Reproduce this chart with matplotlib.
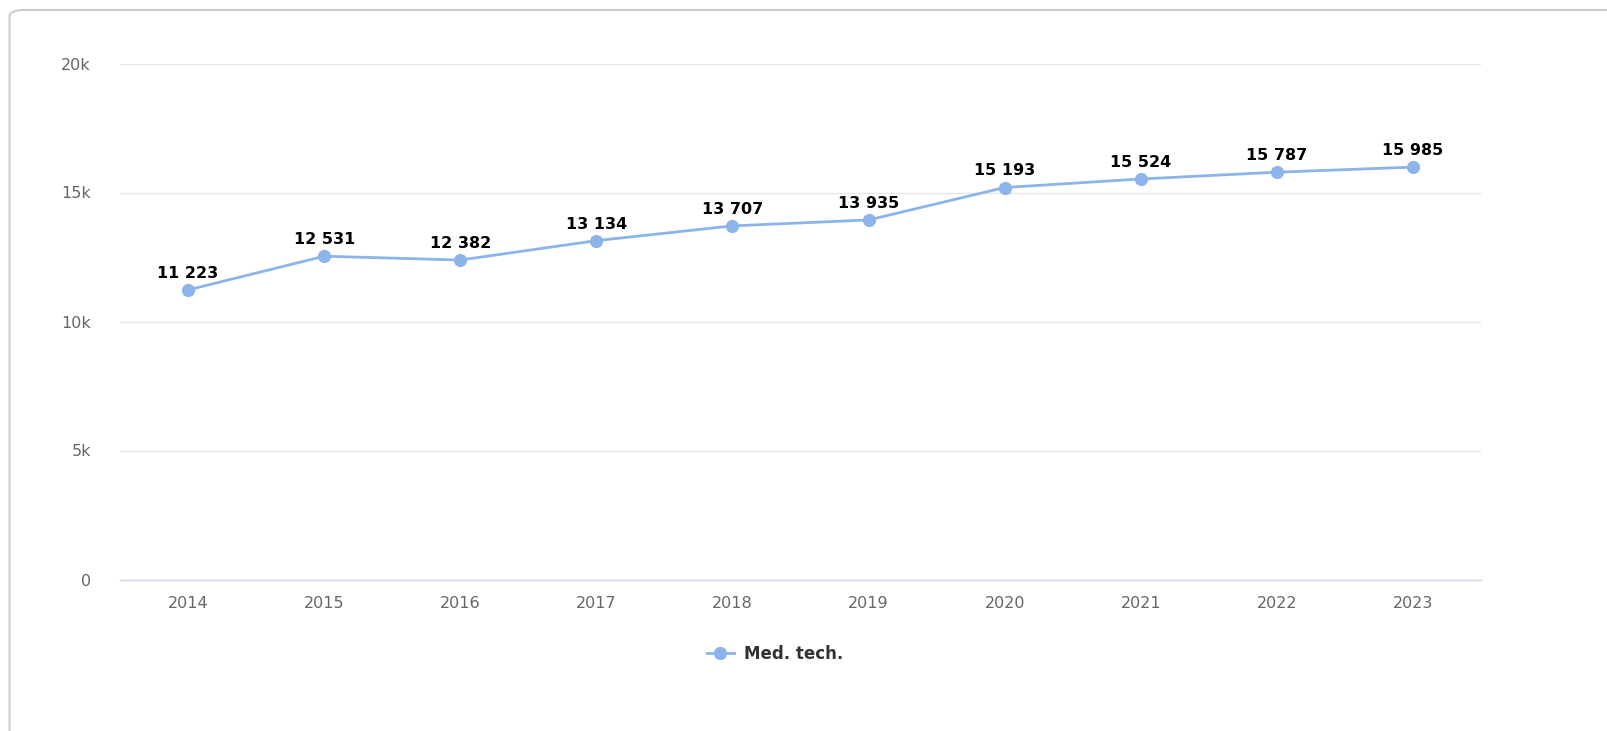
import matplotlib.pyplot as plt
from matplotlib.patches import FancyBboxPatch

# Data
years = ['2014', '2015', '2016', '2017', '2018', '2019', '2020', '2021', '2022', '2023']
med_tech = [11223, 12531, 12382, 13134, 13707, 13935, 15193, 15524, 15787, 15985]
y_ticks = [0, 5000, 10000, 15000, 20000]
y_tick_labels = ['0', '5k', '10k', '15k', '20k']

W, H = 1608, 731
fig = plt.figure(figsize=(W / 100, H / 100), dpi=100)
plt.rcParams['font.family'] = ['DejaVu Sans']

# Card frame (rounded, runs off the right and bottom edges)
frame = FancyBboxPatch((9.5 / W, -0.1), 1.2, 1 - 10 / H + 0.1,
                       boxstyle="round,pad=0,rounding_size=0.009",
                       transform=fig.transFigure, facecolor='white',
                       edgecolor='#cccccc', linewidth=1.5, zorder=-5)
fig.patches.append(frame)

ax = fig.add_axes([120 / W, 1 - 579.5 / H, (1481 - 120) / W, (579.5 - 63.5) / H])
ax.set_facecolor('none')

x = list(range(len(years)))
line_color = '#8cb4ea'
ax.plot(x, med_tech, color=line_color, linewidth=2, marker='o', markersize=8.5,
        label='Med. tech.', zorder=3, clip_on=False)

for xi, v in zip(x, med_tech):
    ax.annotate(f'{v:,}'.replace(',', ' '), (xi, v), xytext=(0, 6.5),
                textcoords='offset points', ha='center', va='bottom',
                fontsize=11.5, fontweight='bold', color='black', zorder=4)

ax.set_xlim(-0.5, len(years) - 0.5)
ax.set_ylim(0, 20000)
ax.set_xticks(x)
ax.set_xticklabels(years)
ax.set_yticks(y_ticks)
ax.set_yticklabels(y_tick_labels)
ax.tick_params(axis='both', length=0, labelsize=11.5, labelcolor='#666666')
ax.tick_params(axis='y', pad=21)
ax.tick_params(axis='x', pad=12)

ax.grid(axis='y', color='#e6e6e6', linewidth=1)
ax.set_axisbelow(True)
for s in ['top', 'right', 'left']:
    ax.spines[s].set_visible(False)
ax.spines['bottom'].set_color('#ccd6eb')
ax.spines['bottom'].set_linewidth(1)

leg = fig.legend(loc='center', bbox_to_anchor=(775 / W, 1 - 654 / H), frameon=False,
                 prop={'weight': 'bold', 'size': 12}, handlelength=1.6,
                 handletextpad=0.6)
for t in leg.get_texts():
    t.set_color('#333333')

fig.savefig('out.png', dpi=100)
